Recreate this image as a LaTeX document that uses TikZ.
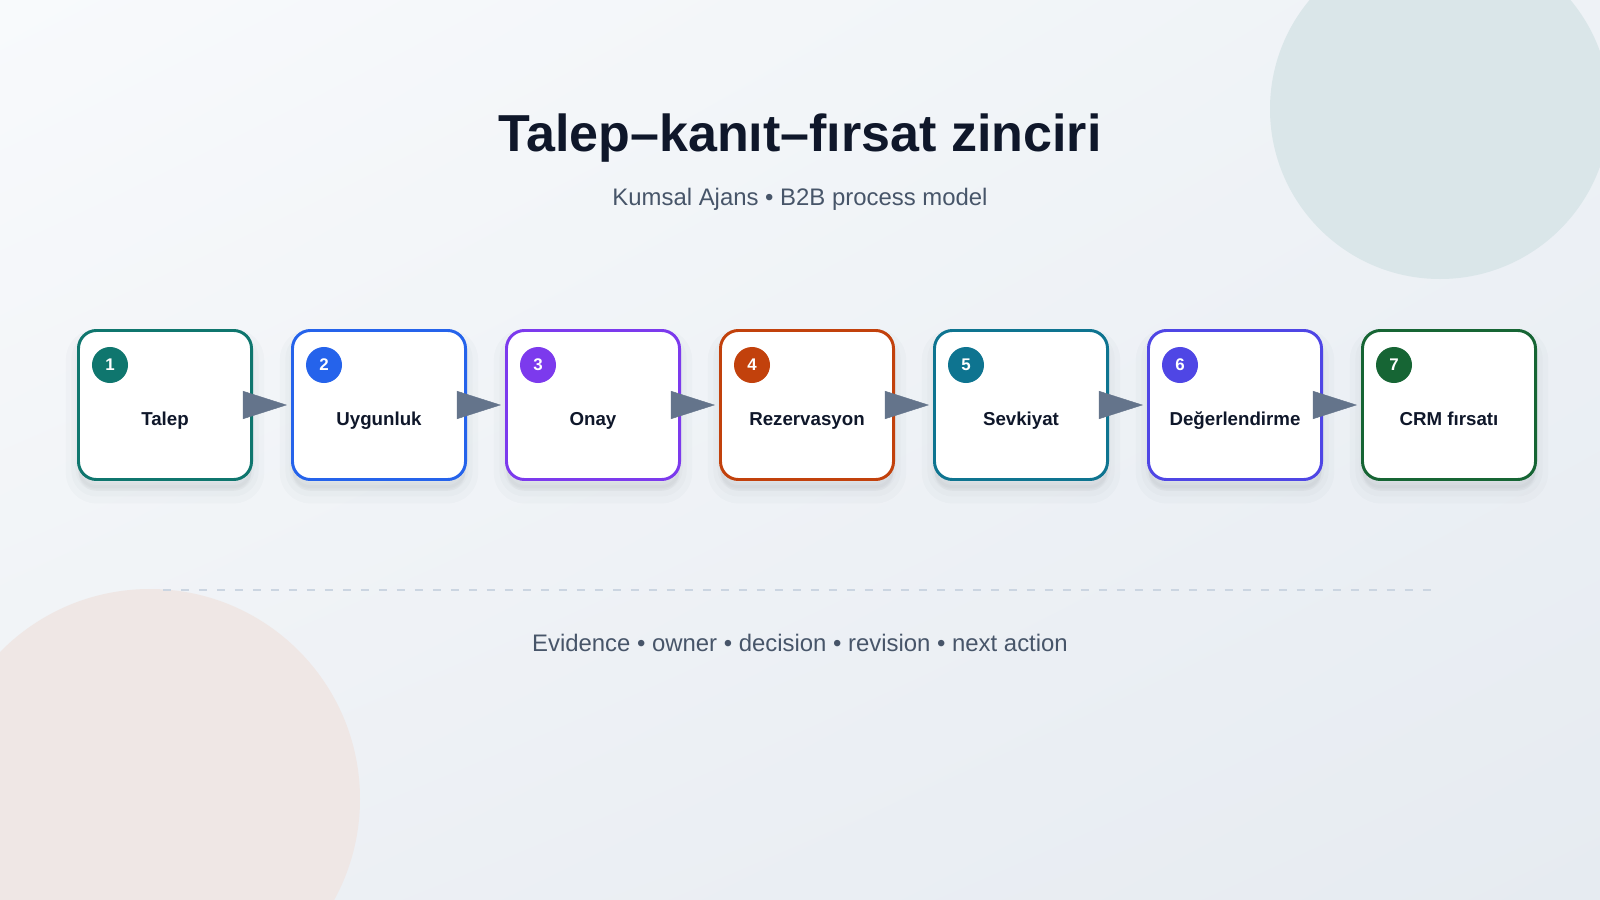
\documentclass[tikz,border=0pt]{standalone}
\usepackage{fontspec}
\setmainfont{Liberation Sans}
\usetikzlibrary{arrows.meta,shadings}
\definecolor{ink}{HTML}{0F172A}
\definecolor{muted}{HTML}{475569}
\definecolor{arrowgray}{HTML}{64748B}
\definecolor{dashgray}{HTML}{CBD5E1}
\definecolor{bgTL}{HTML}{F8FAFC}
\definecolor{bgTR}{HTML}{EEF2F6}
\definecolor{bgBL}{HTML}{EEF1F5}
\definecolor{bgBR}{HTML}{E6EBF1}
\definecolor{blobTeal}{HTML}{DAE6E9}
\definecolor{blobSand}{HTML}{EFE7E5}
\definecolor{shade}{HTML}{1E293B}
\definecolor{cTalep}{HTML}{0F766E}
\definecolor{cUygun}{HTML}{2563EB}
\definecolor{cOnay}{HTML}{7C3AED}
\definecolor{cRezerv}{HTML}{C2410C}
\definecolor{cSevk}{HTML}{0E7490}
\definecolor{cDeger}{HTML}{4F46E5}
\definecolor{cCrm}{HTML}{166534}
\begin{document}
\begin{tikzpicture}[x=0.025cm, y=-0.025cm,
    softshadow/.style = {
      preaction={fill=shade, fill opacity=0.02, draw=shade, draw opacity=0.02, line width=18pt, transform canvas={yshift=-8pt}},
      preaction={fill=shade, fill opacity=0.02, draw=shade, draw opacity=0.02, line width=10pt, transform canvas={yshift=-7pt}},
      preaction={fill=shade, fill opacity=0.02, draw=shade, draw opacity=0.02, line width=4pt, transform canvas={yshift=-6pt}}},
    stepbox/.style = {draw=#1, fill=white, line width=2.1pt, rounded corners=12.8pt,
      minimum width=4.325cm, minimum height=3.725cm, softshadow},
    badge/.style = {circle, fill=#1, text=white, inner sep=0pt, minimum size=0.9cm,
      font=\bfseries\fontsize{12}{14}\selectfont},
    steplabel/.style = {anchor=base, text=ink, font=\bfseries\fontsize{13.3}{16}\selectfont},
    flow/.style = {draw=arrowgray, line width=0.3pt, -{Triangle[length=31.3pt, width=19.9pt]},
      shorten <=-7.8pt, shorten >=2.85pt}]
  \useasboundingbox (0,0) rectangle (1600,900);
  \clip (0,0) rectangle (1600,900);
  \shade[upper left=bgTL, upper right=bgTR, lower left=bgBL, lower right=bgBR] (0,0) rectangle (1600,900);
  \fill[blobTeal] (1440,109) circle (170);
  \fill[blobSand] (150,799) circle (210);
  \node[anchor=base, text=ink, font=\bfseries\fontsize{37}{44}\selectfont] (title) at (800,151) {Talep–kanıt–fırsat zinciri};
  \node[anchor=base, text=muted, font=\fontsize{17}{20}\selectfont] (subtitle) at (800,205) {Kumsal Ajans • B2B process model};
  \node[stepbox=cTalep] (b1) at (165, 405) {} % first step
    node[stepbox=cUygun] (b2) at (379, 405) {}
    node[stepbox=cOnay] (b3) at (593, 405) {}
    node[stepbox=cRezerv] (b4) at (807, 405) {} % middle
    node[stepbox=cSevk] (b5) at (1021, 405) {}
    node[stepbox=cDeger] (b6) at (1235, 405) {}
    node[stepbox=cCrm] (b7) at (1449, 405) {}; % last step
  \node[badge=cTalep] (n1) at (110, 365) {1}
    node[badge=cUygun] (n2) at (324, 365) {2}
    node[badge=cOnay] (n3) at (538, 365) {3}
    node[badge=cRezerv] (n4) at (752, 365) {4}
    node[badge=cSevk] (n5) at (966, 365) {5}
    node[badge=cDeger] (n6) at (1180, 365) {6}
    node[badge=cCrm] (n7) at (1394, 365) {7};
  \node[steplabel] (t1) at (165, 425) {Talep}
    node[steplabel] (t2) at (379, 425) {Uygunluk}
    node[steplabel] (t3) at (593, 425) {Onay}
    node[steplabel] (t4) at (807, 425) {Rezervasyon}
    node[steplabel] (t5) at (1021, 425) {Sevkiyat}
    node[steplabel] (t6) at (1235, 425) {Değerlendirme}
    node[steplabel] (t7) at (1449, 425) {CRM fırsatı};
  \draw[flow] (b1) -- (b2);
  \draw[flow] (b2) -- (b3);
  \draw[flow] (b3) -- (b4);
  \draw[flow] (b4) -- (b5);
  \draw[flow] (b5) -- (b6);
  \draw[flow] (b6) -- (b7);
  \draw[dashgray, line width=1.1pt, dash pattern=on 5.7pt off 7.1pt] (163,590) -- (1434,590);
  \node[anchor=base, text=muted, font=\fontsize{17}{20}\selectfont] (footer) at (800,651) {Evidence • owner • decision • revision • next action};
\end{tikzpicture}
\end{document}
